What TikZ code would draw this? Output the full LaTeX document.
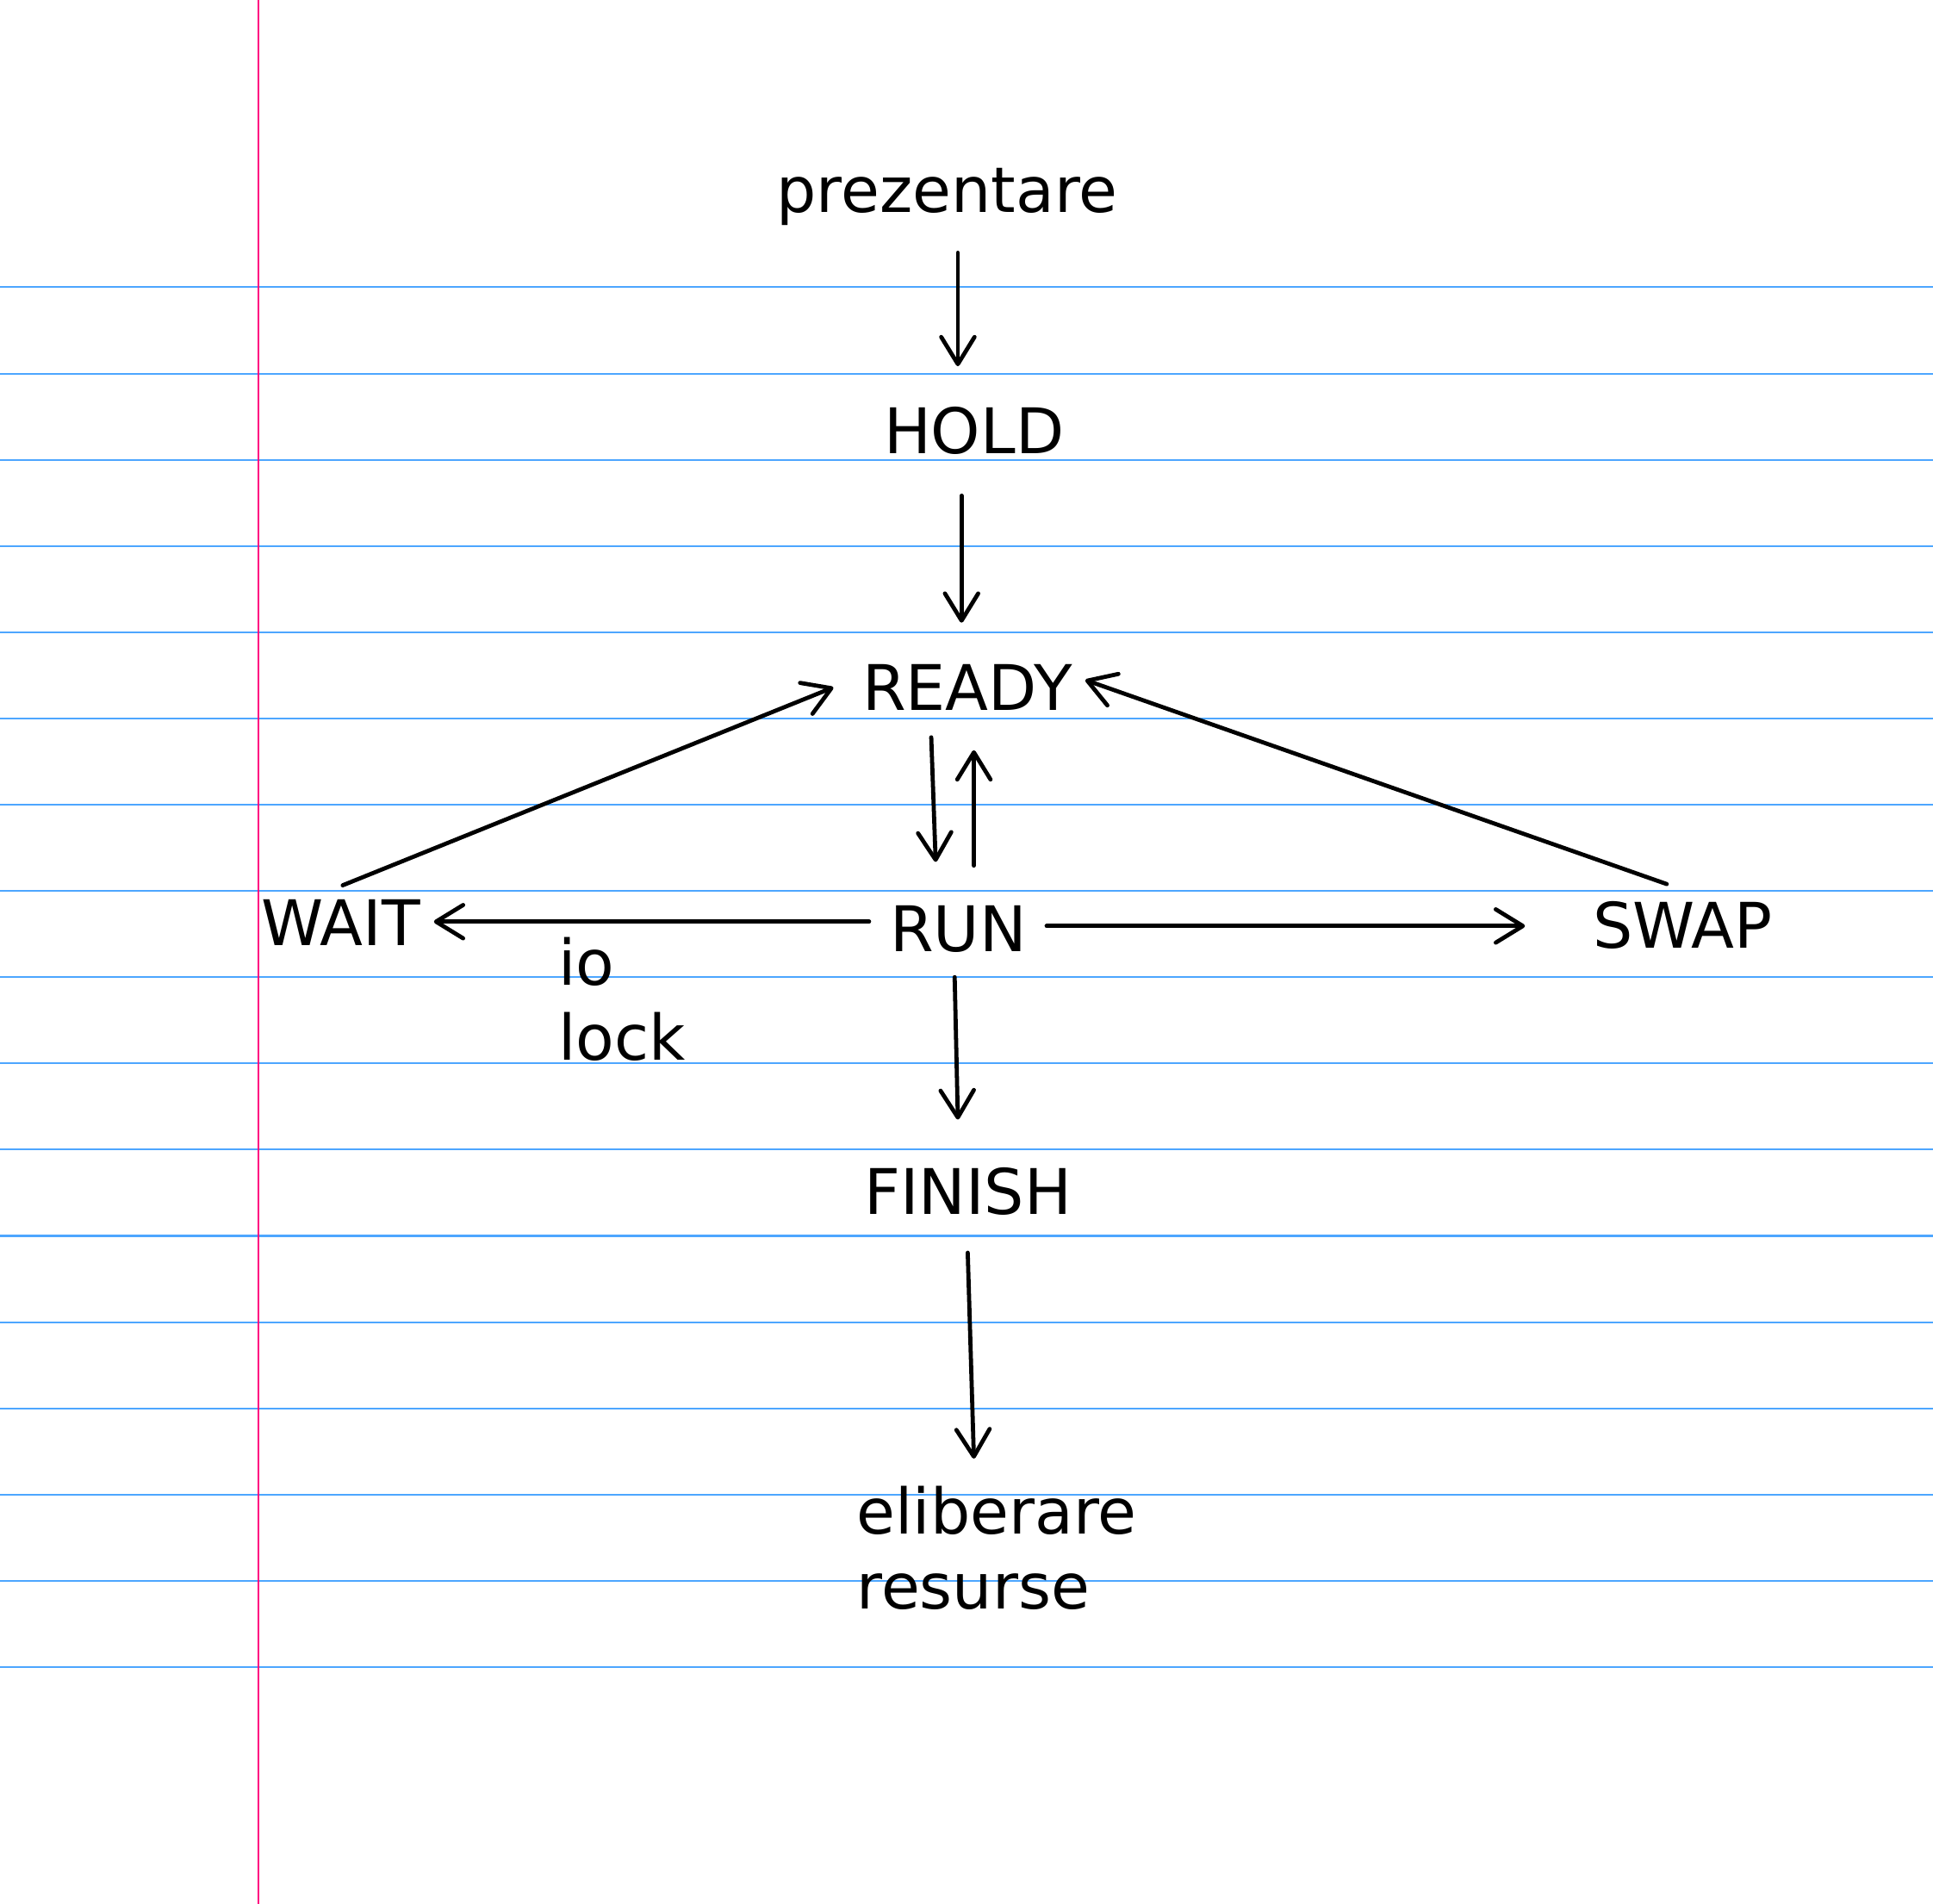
\documentclass[tikz,border=0pt]{standalone}
\usepackage{fontspec}
\setmainfont{DejaVu Sans}
\usetikzlibrary{arrows.meta}
\definecolor{ruleblue}{RGB}{77,166,255}
\definecolor{marginpink}{RGB}{255,0,128}
\tikzset{
  txt/.style={anchor=base west, inner sep=0pt, outer sep=0pt, font=\fontsize{14.5}{17.36}\selectfont},
  arr/.style={line width=0.95pt, line cap=round, -{Straight Barb[length=0.22cm,width=0.27cm,round]}},
  rule/.style={ruleblue, line width=0.4pt},
  margin/.style={marginpink, line width=0.4pt}
}
\begin{document}
\begin{tikzpicture}[x=0.01cm, y=-0.01cm]
\useasboundingbox (0,0) rectangle (1568,1544);
\fill[white] (0,0) rectangle (1568,1544);
% ruled paper
\foreach \k in {0,...,16} {
  \draw[rule] (0,{233+69.94*\k}) -- (1568,{233+69.94*\k});
}
\draw[margin] (209.5,0) -- (209.5,1544);
% states
\node[txt] (prez) at (630,172) {prezentare};
\node[txt] (hold) at (717,368) {HOLD};
\node[txt] (ready) at (699.5,576) {READY};
\node[txt] (run) at (722,772) {RUN};
\node[txt] (wait) at (212,767) {WAIT};
\node[txt] (swap) at (1292,769) {SWAP};
\node[txt] (iolock) at (453,799) {\vtop{\hbox{io}\hbox{lock}}};
\node[txt] (finish) at (701,985) {FINISH};
\node[txt] (elib) at (695,1244) {\vtop{\hbox{eliberare}\hbox{resurse}}};
% transitions
\draw[arr] ([shift={(147,33)}]prez.base west) -- ([shift={(60,-71)}]hold.base west);
\draw[arr] ([shift={(63,34)}]hold.base west) -- ([shift={(80.5,-71)}]ready.base west);
\draw[arr] ([shift={(55.9,22)}]ready.base west) -- ([shift={(37,-73)}]run.base west);
\draw[arr] ([shift={(68,-70)}]run.base west) -- ([shift={(90.5,32.5)}]ready.base west);
\draw[arr] ([shift={(66,-49)}]wait.base west) -- ([shift={(-23.5,-18.5)}]ready.base west);
\draw[arr] ([shift={(60,-52)}]swap.base west) -- ([shift={(180.9,-24.5)}]ready.base west);
\draw[arr] ([shift={(-17,-24.5)}]run.base west) -- ([shift={(140,-19.5)}]wait.base west);
\draw[arr] ([shift={(127,-21)}]run.base west) -- ([shift={(-55,-18)}]swap.base west);
\draw[arr] ([shift={(52.4,20.5)}]run.base west) -- ([shift={(76,-77)}]finish.base west);
\draw[arr] ([shift={(84,31)}]finish.base west) -- ([shift={(95,-61)}]elib.base west);
\end{tikzpicture}
\end{document}
